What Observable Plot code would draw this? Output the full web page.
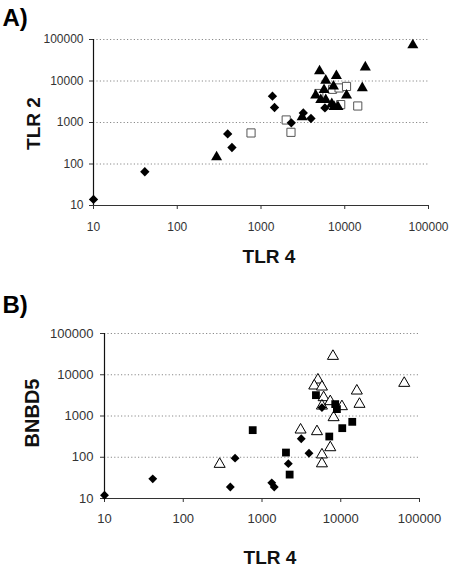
<!DOCTYPE html>
<html>
<head>
<meta charset="utf-8">
<script src="https://cdn.jsdelivr.net/npm/d3@7"></script>
<script src="https://cdn.jsdelivr.net/npm/@observablehq/plot@0.6"></script>
<style>
  html, body { margin: 0; padding: 0; background: #fff; }
  #chart svg { display: block; }
</style>
</head>
<body>
<div id="chart"></div>
<script>
// ---- Tick values ----
const decadeTicks = [10, 100, 1000, 10000, 100000];
const gridTicks = [100, 1000, 10000, 100000];

// ---- Panel A: TLR 4 (x) vs TLR 2 (y) ----
const diamondTLR4A = [10, 41, 400, 450, 1370, 1450, 2300, 3200, 3950, 5800];
const diamondTLR2  = [14, 65, 530, 250, 4300, 2300, 980, 1700, 1250, 2250];

const squareTLR4A = [760, 2000, 2280, 4900, 7150, 8550, 8950, 10500, 14300];
const squareTLR2  = [560, 1150, 580, 5000, 6300, 6800, 2700, 7400, 2500];

const triangleTLR4A = [295, 3100, 4500, 5000, 5170, 5660, 5930, 5930, 7000, 7330, 7450, 7950, 8300, 10500, 16200, 17600, 65000];
const triangleTLR2  = [146, 1350, 4500, 17300, 3500, 6100, 10300, 3500, 2800, 7400, 2400, 13300, 2380, 4500, 6800, 21500, 73000];

// ---- Panel B: TLR 4 (x) vs BNBD5 (y) ----
const diamondTLR4B = [10, 41, 396, 455, 1330, 1430, 2160, 3150, 3950, 5770];
const diamondBNBD5 = [12, 30, 19, 95, 24, 19, 70, 280, 125, 1600];

const squareTLR4B = [762, 2015, 2244, 4840, 7150, 8510, 8940, 10450, 14000];
const squareBNBD5 = [454, 130, 38, 3200, 318, 1940, 1470, 507, 722];

const triangleTLR4B = [290, 3090, 4990, 7960, 5130, 4610, 5770, 6060, 5770, 7360, 8110, 10350, 16000, 17300, 64000, 7360, 5770, 5770];
const triangleBNBD5 = [68, 462, 421, 28200, 7530, 5390, 5090, 2810, 1760, 2250, 920, 1700, 4070, 1940, 6250, 172, 115, 70];

const rows = (xs, ys) => xs.map((x, i) => ({x, y: ys[i]}));
const fmt = d3.format("d");

function panel(o) {
  return Plot.plot({
    width: 450,
    height: o.height,
    marginLeft: o.ml, marginRight: o.mr, marginTop: o.mt, marginBottom: o.mb,
    style: {fontFamily: "'Liberation Sans', Arial, sans-serif", fontSize: o.tickFont + "px", color: "#333", background: "#fff", overflow: "visible"},
    x: {type: "log", domain: [10, 100000]},
    y: {type: "log", domain: [10, 100000]},
    marks: [
      Plot.gridY(gridTicks, {stroke: "#8a8a8a", strokeOpacity: 1, strokeDasharray: "1.2,2.2"}),
      Plot.axisY(decadeTicks, {tickFormat: fmt, tickSize: 4, tickPadding: o.yPad, label: null, fontSize: o.tickFont}),
      Plot.axisX(decadeTicks, {tickFormat: fmt, tickSize: 4, tickPadding: o.xPad, label: null, fontSize: o.tickFont}),
      Plot.ruleY([10], {stroke: "#333", strokeWidth: 1.2}),
      Plot.ruleX([10], {stroke: "#111", strokeWidth: 1.2}),
      ...o.dots,
      Plot.text([o.panelLabel], {frameAnchor: "top-left", textAnchor: "start", lineAnchor: "bottom", dx: o.plDx, dy: o.plDy, fontSize: 24, fontWeight: "bold", fill: "#000"}),
      Plot.text([o.yLabel], {frameAnchor: "left", rotate: -90, textAnchor: "middle", lineAnchor: "middle", dx: o.ylDx, dy: o.ylDy, fontSize: o.ylSize, fontWeight: "bold", fill: "#111"}),
      Plot.text([o.xLabel], {frameAnchor: "bottom", textAnchor: "middle", lineAnchor: "bottom", dx: o.xlDx, dy: o.xlDy, fontSize: 19, fontWeight: "bold", fill: "#111"})
    ]
  });
}

const chartA = panel({
  height: 280, ml: 93, mr: 22, mt: 39, mb: 75, tickFont: 12, yPad: 6, xPad: 13,
  panelLabel: "A)", plDx: -91, plDy: -14,
  yLabel: "TLR 2", ylSize: 19, ylDx: -60, ylDy: 1,
  xLabel: "TLR 4", xlDx: 8, xlDy: 57,
  dots: [
    Plot.dot(rows(squareTLR4A, squareTLR2), {x: "x", y: "y", symbol: "square", r: 4.6, fill: "#fff", stroke: "#555", strokeWidth: 1}),
    Plot.dot(rows(triangleTLR4A, triangleTLR2), {x: "x", y: "y", symbol: "triangle", r: 4.1, fill: "#000", stroke: "none"}),
    Plot.dot(rows(diamondTLR4A, diamondTLR2), {x: "x", y: "y", symbol: "diamond2", r: 4.2, fill: "#000", stroke: "none"})
  ]
});

const chartB = panel({
  height: 286, ml: 104, mr: 31, mt: 53, mb: 68, tickFont: 13, yPad: 7, xPad: 11,
  panelLabel: "B)", plDx: -102, plDy: -21,
  yLabel: "BNBD5", ylSize: 20, ylDx: -72, ylDy: -3,
  xLabel: "TLR 4", xlDx: 8, xlDy: 65,
  dots: [
    Plot.dot(rows(triangleTLR4B, triangleBNBD5), {x: "x", y: "y", symbol: "triangle", r: 4.1, fill: "#fff", stroke: "#000", strokeWidth: 1}),
    Plot.dot(rows(squareTLR4B, squareBNBD5), {x: "x", y: "y", symbol: "square", r: 4.4, fill: "#000", stroke: "none"}),
    Plot.dot(rows(diamondTLR4B, diamondBNBD5), {x: "x", y: "y", symbol: "diamond2", r: 4.0, fill: "#000", stroke: "none"})
  ]
});

document.getElementById("chart").append(chartA, chartB);
</script>
</body>
</html>
